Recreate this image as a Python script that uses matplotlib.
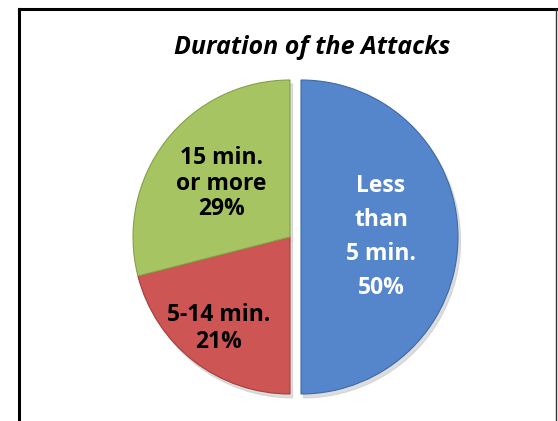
import matplotlib
matplotlib.use("Agg")
import matplotlib.pyplot as plt
from matplotlib.lines import Line2D
import numpy as np

plt.rcParams['font.family'] = ['Open Sans', 'DejaVu Sans']

# data
categories = ["Less\nthan\n5 min.", "5-14 min.", "15 min.\nor more"]
shares = [50, 21, 29]
pct_labels = ["50%", "21%", "29%"]
title = "Duration of the Attacks"

colors = ['#5585CA', '#CD5553', '#A7C462']
edges = ['#3E6AA6', '#A43E3C', '#86A048']
text_colors = ['white', 'black', 'black']
label_r = [0.51, 0.74, 0.555]
label_spacing = [1.55, 1.15, 1.1]
explode = [0.07, 0, 0]

W, H = 558, 421
fig = plt.figure(figsize=(W / 100, H / 100), dpi=100)

# pie centre (unexploded) and radius in pixels
cx, cy, R = 290, H - 237, 157
x0, x1, y0, y1 = -1.1, 1.2, -1.1, 1.1
ax = fig.add_axes([(cx + x0 * R) / W, (cy + y0 * R) / H,
                   (x1 - x0) * R / W, (y1 - y0) * R / H])

wedges, _ = ax.pie(shares, colors=colors, startangle=90, counterclock=False,
                   explode=explode,
                   shadow={'ox': 0.012, 'oy': -0.018, 'color': '0.78', 'alpha': 0.6},
                   wedgeprops=dict(linewidth=0.8))
for w, ec in zip(wedges, edges):
    w.set_edgecolor(ec)

for w, cat, pct, tc, r, ls in zip(wedges, categories, pct_labels, text_colors,
                                  label_r, label_spacing):
    ang = np.deg2rad((w.theta1 + w.theta2) / 2)
    xc, yc = w.center
    ax.text(xc + r * np.cos(ang), yc + r * np.sin(ang), cat + "\n" + pct,
            ha='center', va='center', color=tc, fontsize=16.5,
            fontweight='bold', linespacing=ls)

ax.set_xlim(x0, x1)
ax.set_ylim(y0, y1)

fig.text(312 / W, 1 - 47 / H, title, ha='center', va='center',
         fontsize=18, fontweight='bold', fontstyle='italic')

# chart frame
fig.add_artist(Line2D([18.5 / W, 18.5 / W], [0, 1 - 8.5 / H], color='black', lw=2.2,
                      transform=fig.transFigure, solid_capstyle='projecting'))
fig.add_artist(Line2D([18.5 / W, 556 / W], [1 - 8.5 / H, 1 - 8.5 / H], color='black', lw=2.2,
                      transform=fig.transFigure, solid_capstyle='projecting'))
fig.add_artist(Line2D([556 / W, 556 / W], [0, 1 - 8.5 / H], color='#333333', lw=1.0,
                      transform=fig.transFigure))

fig.savefig("out.png", dpi=100)
